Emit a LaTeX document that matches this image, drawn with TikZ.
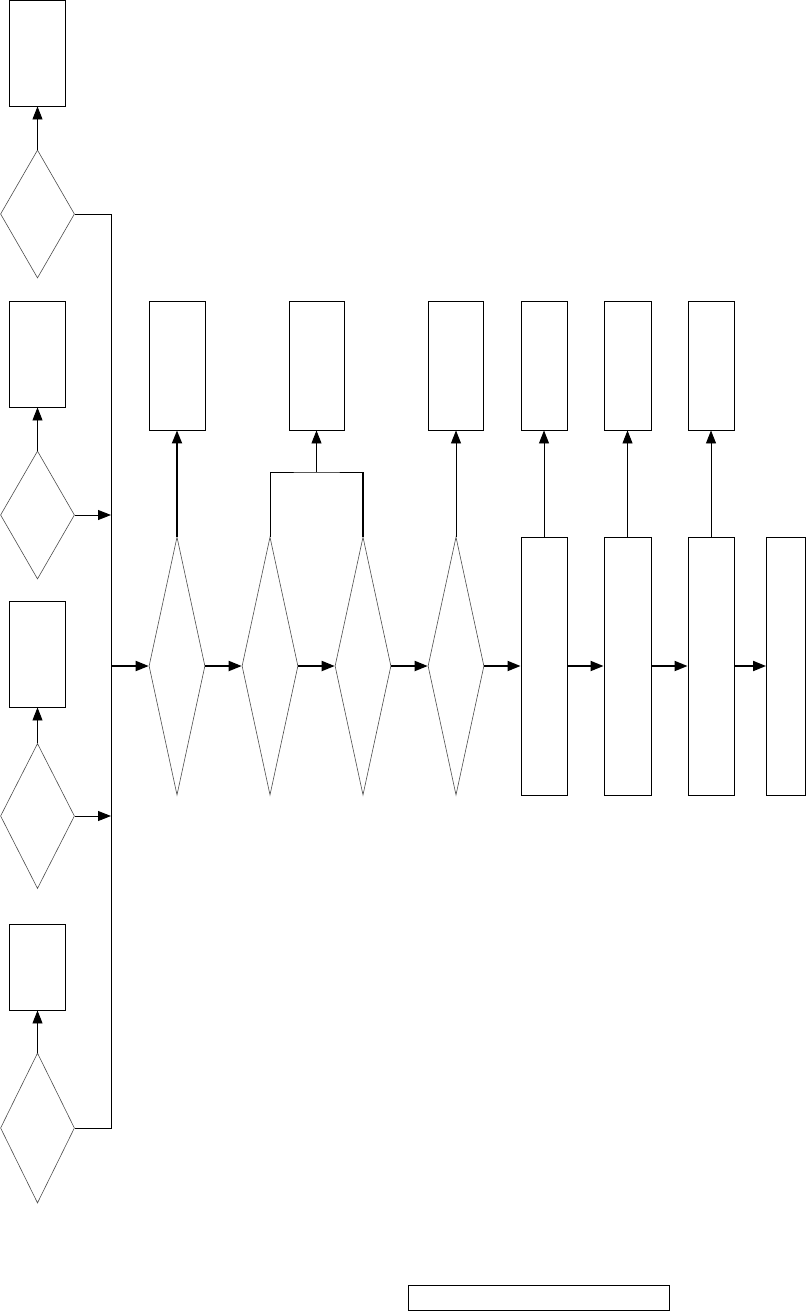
\documentclass[tikz,border=0pt]{standalone}
\usetikzlibrary{positioning,shapes.geometric,arrows.meta}

\tikzset{
    box/.style={draw, line width=0.9pt, inner sep=0pt, minimum width=56pt},
    choice/.style={draw=black!70, line width=0.6pt, diamond, inner sep=0pt, minimum width=56pt},
    link/.style={line width=0.9pt},
    flow/.style={line width=0.9pt, -{Triangle[length=13pt,width=10pt]}},
    thickflow/.style={flow, line width=1.8pt}
}

\begin{document}
\begin{tikzpicture}[x=1pt, y=-1pt]
    \useasboundingbox (0,0) rectangle (806,1312);

    % left column
    \node [box, minimum height=106pt] (lr1) at (37.5,53) {};
    \node [choice, minimum width=74pt, minimum height=128pt, aspect=0.58] (ld1) at (37.5,214) {};
    \node [box, minimum height=106pt] (lr2) at (37.5,354) {};
    \node [choice, minimum width=74pt, minimum height=128pt, aspect=0.58] (ld2) at (37.5,515) {};
    \node [box, minimum height=106pt] (lr3) at (37.5,654) {};
    \node [choice, minimum width=74pt, minimum height=145pt, aspect=0.51] (ld3) at (37.5,816) {};
    \node [box, minimum height=86pt] (lr4) at (37.5,967) {};
    \node [choice, minimum width=74pt, minimum height=150pt, aspect=0.49] (ld4) at (37.5,1128) {};

    % bus
    \coordinate (bus top) at (111,214);
    \coordinate (bus bottom) at (111,1128);
    \coordinate (bus two) at (111,515);
    \coordinate (bus three) at (111,816);
    \coordinate (bus out) at (111,666);

    % top row
    \node [box, minimum height=129pt] (t1) at (177,365.5) {};
    \node [box, minimum width=55pt, minimum height=129pt] (t2) at (316.5,365.5) {};
    \node [box, minimum width=55pt, minimum height=129pt] (t3) at (456,365.5) {};
    \node [box, minimum width=46pt, minimum height=129pt] (t4) at (544,365.5) {};
    \node [box, minimum width=47pt, minimum height=129pt] (t5) at (627.5,365.5) {};
    \node [box, minimum width=46pt, minimum height=129pt] (t6) at (711,365.5) {};

    % middle row
    \foreach \n/\x in {1/177, 2/270, 3/363, 4/456}
        \node [choice, minimum height=258pt, aspect=0.22] (m\n) at (\x,666) {};
    \node [box, minimum width=46pt, minimum height=258pt] (b1) at (544,666) {};
    \node [box, minimum width=47pt, minimum height=258pt] (b2) at (627.5,666) {};
    \node [box, minimum width=46pt, minimum height=258pt] (b3) at (711,666) {};
    \node [box, minimum width=39pt, minimum height=258pt] (b4) at (786,666) {};

    % bottom bar
    \node [box, minimum width=261pt, minimum height=25pt] (bar) at (538.5,1298) {};

    \coordinate (join) at (316.5,472);

    % connectors
    \draw [flow] (ld1.north) -- (lr1.south);
    \draw [flow] (ld2.north) -- (lr2.south);
    \draw [flow] (ld3.north) -- (lr3.south);
    \draw [flow] (ld4.north) -- (lr4.south);

    \draw [link] (ld1.east) -- (bus top) -- (bus bottom) -- (ld4.east);
    \draw [flow] (ld2.east) -- (bus two);
    \draw [flow] (ld3.east) -- (bus three);
    \draw [thickflow] (bus out) -- (m1.west);

    \draw [thickflow] (m1.east) -- (m2.west);
    \draw [thickflow] (m2.east) -- (m3.west);
    \draw [thickflow] (m3.east) -- (m4.west);
    \draw [thickflow] (m4.east) -- (b1.west);
    \draw [thickflow] (b1.east) -- (b2.west);
    \draw [thickflow] (b2.east) -- (b3.west);
    \draw [thickflow] (b3.east) -- (b4.west);

    \draw [thickflow] (m1.north) -- (t1.south);
    \draw [link] (m2.north) |- (join) -| (m3.north);
    \draw [line width=1.8pt] (m3.north) -- (m3.north |- join);
    \draw [flow] (join) -- (t2.south);
    \draw [flow] (m4.north) -- (t3.south);
    \draw [flow] (b1.north) -- (t4.south);
    \draw [flow] (b2.north) -- (t5.south);
    \draw [flow] (b3.north) -- (t6.south);
\end{tikzpicture}
\end{document}
